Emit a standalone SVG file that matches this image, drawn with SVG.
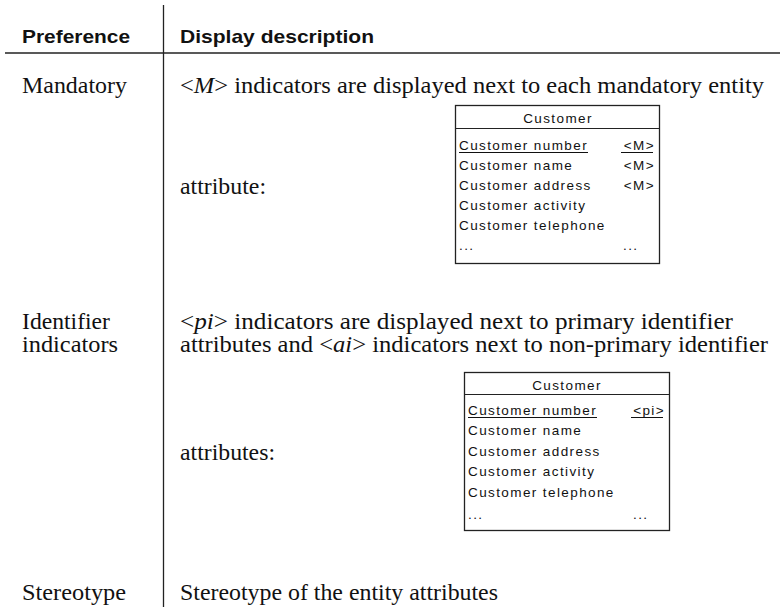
<svg xmlns="http://www.w3.org/2000/svg" width="780" height="607" viewBox="0 0 780 607">
  <style>
    .rule { stroke: #222; stroke-width: 1.3; fill: none; }
    .hd { font-family: "Liberation Sans", Arial, sans-serif; font-weight: bold; font-size: 19px; fill: #111; }
    .bd { font-family: "Liberation Serif", "Times New Roman", serif; font-size: 23px; fill: #111; }
    .it { font-style: italic; }
    .ent { fill: #fff; stroke: #222; stroke-width: 1.3; }
    .sep { stroke: #222; stroke-width: 1.2; }
    .at { font-family: "Liberation Sans", Arial, sans-serif; font-size: 13.5px; letter-spacing: 1.4px; fill: #111; }
    .ul { stroke: #111; stroke-width: 1; }
  </style>

  <rect width="780" height="607" fill="#fff"/>

  <!-- table rules -->
  <g id="grid">
    <line class="rule" x1="5" y1="53" x2="780" y2="53"/>
    <line class="rule" x1="163.5" y1="5" x2="163.5" y2="607"/>
  </g>

  <!-- column headings -->
  <g id="header">
    <text class="hd" x="22" y="43" textLength="108" lengthAdjust="spacingAndGlyphs">Preference</text>
    <text class="hd" x="180" y="43" textLength="194" lengthAdjust="spacingAndGlyphs">Display description</text>
  </g>

  <!-- Mandatory row -->
  <g id="row-mandatory">
    <text class="bd" x="22" y="92.5" textLength="105" lengthAdjust="spacingAndGlyphs">Mandatory</text>
    <text class="bd" x="180" y="92.5" textLength="584" lengthAdjust="spacingAndGlyphs">&lt;<tspan class="it">M</tspan>&gt; indicators are displayed next to each mandatory entity</text>
    <text class="bd" x="180" y="194" textLength="86" lengthAdjust="spacingAndGlyphs">attribute:</text>
  </g>

  <g id="entity-mandatory">
    <rect class="ent" x="455.5" y="105.5" width="204" height="158"/>
    <line class="sep" x1="455.5" y1="128.5" x2="659.5" y2="128.5"/>
    <text class="at" x="558" y="122.5" text-anchor="middle">Customer</text>
    <text class="at" x="459" y="149.5">Customer number</text>
    <text class="at" x="655" y="149.5" text-anchor="end">&lt;M&gt;</text>
    <line class="ul" x1="459" y1="152.5" x2="588" y2="152.5"/>
    <line class="ul" x1="621" y1="152.5" x2="653" y2="152.5"/>
    <text class="at" x="459" y="169.5">Customer name</text>
    <text class="at" x="655" y="169.5" text-anchor="end">&lt;M&gt;</text>
    <text class="at" x="459" y="189.5">Customer address</text>
    <text class="at" x="655" y="189.5" text-anchor="end">&lt;M&gt;</text>
    <text class="at" x="459" y="209.5">Customer activity</text>
    <text class="at" x="459" y="229.5">Customer telephone</text>
    <text class="at" x="459" y="250" letter-spacing="0.5">...</text>
    <text class="at" x="623" y="250" letter-spacing="0.5">...</text>
  </g>

  <!-- Identifier indicators row -->
  <g id="row-identifier">
    <text class="bd" x="22" y="329" textLength="88" lengthAdjust="spacingAndGlyphs">Identifier</text>
    <text class="bd" x="22" y="352" textLength="96" lengthAdjust="spacingAndGlyphs">indicators</text>
    <text class="bd" x="180" y="329" textLength="553" lengthAdjust="spacingAndGlyphs">&lt;<tspan class="it">pi</tspan>&gt; indicators are displayed next to primary identifier</text>
    <text class="bd" x="180" y="352" textLength="588" lengthAdjust="spacingAndGlyphs">attributes and &lt;<tspan class="it">ai</tspan>&gt; indicators next to non-primary identifier</text>
    <text class="bd" x="180" y="460" textLength="95" lengthAdjust="spacingAndGlyphs">attributes:</text>
  </g>

  <g id="entity-identifier">
    <rect class="ent" x="464.5" y="372.5" width="205" height="158"/>
    <line class="sep" x1="464.5" y1="394.5" x2="669.5" y2="394.5"/>
    <text class="at" x="567" y="389.5" text-anchor="middle">Customer</text>
    <text class="at" x="468" y="414.5">Customer number</text>
    <text class="at" x="665" y="414.5" text-anchor="end">&lt;pi&gt;</text>
    <line class="ul" x1="468" y1="417.5" x2="597" y2="417.5"/>
    <line class="ul" x1="631" y1="417.5" x2="663" y2="417.5"/>
    <text class="at" x="468" y="435">Customer name</text>
    <text class="at" x="468" y="455.5">Customer address</text>
    <text class="at" x="468" y="476">Customer activity</text>
    <text class="at" x="468" y="496.5">Customer telephone</text>
    <text class="at" x="468" y="518.5" letter-spacing="0.5">...</text>
    <text class="at" x="633" y="518.5" letter-spacing="0.5">...</text>
  </g>

  <!-- Stereotype row -->
  <g id="row-stereotype">
    <text class="bd" x="22" y="600" textLength="104" lengthAdjust="spacingAndGlyphs">Stereotype</text>
    <text class="bd" x="180" y="600" textLength="318" lengthAdjust="spacingAndGlyphs">Stereotype of the entity attributes</text>
  </g>
</svg>
